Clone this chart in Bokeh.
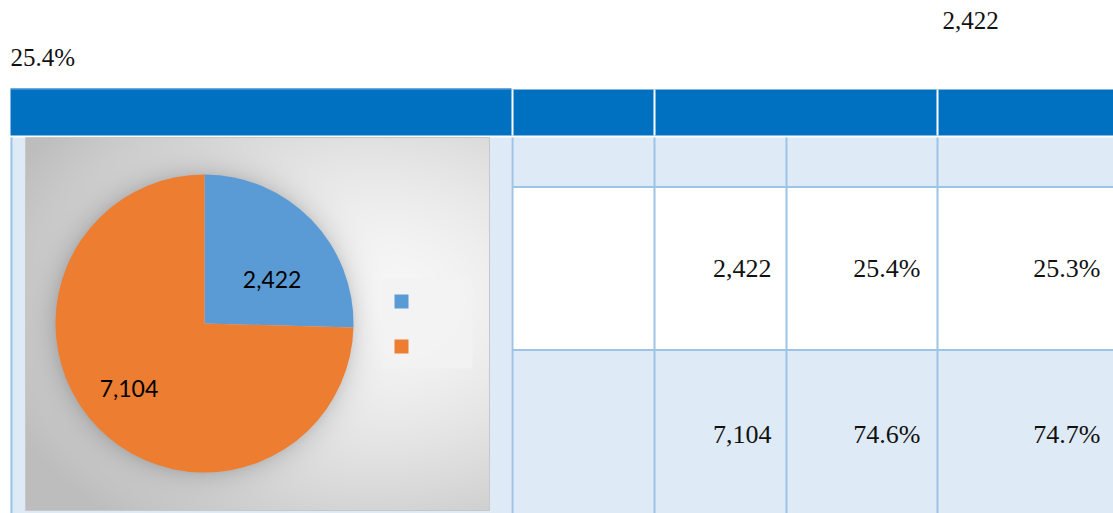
import numpy as np
from bokeh.plotting import figure
from bokeh.models import Range1d, ColumnDataSource
from bokeh.core.properties import value
from bokeh.embed import file_html
from bokeh.resources import INLINE

# ---- data ----
categories = ["", ""]
counts = [2422, 7104]
count_labels = ["2,422", "7,104"]
share_a = ["25.4%", "74.6%"]
share_b = ["25.3%", "74.7%"]
colors = ["#5B9BD5", "#ED7D31"]

W, H = 1113, 513
p = figure(width=W, height=H, x_range=Range1d(0, W), y_range=Range1d(0, H),
           output_backend="svg", toolbar_location=None, min_border=0)
p.axis.visible = False
p.grid.visible = False
p.outline_line_color = None
p.background_fill_color = "white"
p.border_fill_color = "white"

def Y(py):
    return 513 - py

LBLUE = "#DEEAF6"
GRID = "#9DC3E6"
HEAD = "#0070C0"

def serif_text(x, y, txt, size, align):
    p.text(x=x, y=y, text=txt, text_font=value("Liberation Serif"), text_font_size=size,
           text_align=align, text_baseline="middle", text_color="#111111")

# ---- texts above the table ----
serif_text([942], [Y(20)], [count_labels[0]], "25px", "left")
serif_text([10], [Y(57)], [share_a[0]], "25px", "left")

# ---- table header ----
p.quad(left=[10], right=[511], top=[Y(87.5)], bottom=[Y(89.5)], fill_color="#6FA8DC", line_color=None)
p.quad(left=[10], right=[1113], top=[Y(89)], bottom=[Y(135)], fill_color=HEAD, line_color=None)
for xs in [512, 654, 937]:
    p.quad(left=[xs - 1], right=[xs + 1], top=[Y(89)], bottom=[Y(135)], fill_color="white", line_color=None)

# ---- left merged cell ----
p.quad(left=[10], right=[511], top=[Y(137)], bottom=[Y(513)], fill_color=LBLUE, line_color=None)

# ---- right rows ----
rows = [(137, 186, LBLUE), (187, 349, "white"), (350, 513, LBLUE)]
for top, bot, col in rows:
    p.quad(left=[512], right=[1113], top=[Y(top)], bottom=[Y(bot)], fill_color=col, line_color=None)
for yy in [186.5, 349.5]:
    p.segment(x0=[512], y0=[Y(yy)], x1=[1113], y1=[Y(yy)], line_color=GRID, line_width=2)
for xx in [11, 512, 654, 786, 937]:
    p.segment(x0=[xx], y0=[Y(137)], x1=[xx], y1=[Y(513)], line_color=GRID, line_width=2)

# ---- chart area gradient background ----
cx0, cy0, cw, ch = 25, 137, 464, 373
pie_cx, pie_cy, pie_r = 204, 323, 149
jj, ii = np.meshgrid(np.arange(cw), np.arange(ch))
px = cx0 + jj + 0.5
py = (cy0 + ch) - ii - 0.5
d = np.sqrt(((px - 370) / 360.0) ** 2 + ((py - 300) / 260.0) ** 2)
val = 248 - 50 * d ** 1.6
val = np.clip(val, 190, 250)
e = np.sqrt((px - pie_cx) ** 2 + (py - pie_cy) ** 2) - pie_r
shade = np.where(e > 0, 32 * np.exp(-e / 12.0), 32)
val = np.clip(val - shade, 150, 255)
img = np.zeros((ch, cw, 4), dtype=np.uint8)
img[..., 0] = val
img[..., 1] = val
img[..., 2] = val
img[..., 3] = 255
img32 = img.view(dtype=np.uint32).reshape((ch, cw))
p.image_rgba(image=[img32], x=cx0, y=Y(cy0 + ch), dw=cw, dh=ch)
p.quad(left=[cx0], right=[cx0 + cw], top=[Y(cy0)], bottom=[Y(cy0 + ch)], fill_color=None,
       line_color="#C8C8C8", line_width=1)

# ---- pie ----
total = float(sum(counts))
fr = np.array(counts) / total
cum = np.concatenate([[0], np.cumsum(fr)])
starts = np.pi / 2 - cum[:-1] * 2 * np.pi
ends = np.pi / 2 - cum[1:] * 2 * np.pi
src = ColumnDataSource(dict(x=[pie_cx] * len(counts), y=[Y(pie_cy)] * len(counts),
                            start=starts, end=ends, color=colors, cat=categories))
p.wedge(x="x", y="y", radius=pie_r, start_angle="start", end_angle="end", direction="clock",
        fill_color="color", line_color=None, source=src)

mid = (starts + ends) / 2
lab_r = np.array([0.54, 0.67]) * pie_r
lab_da = np.array([-0.2, -0.06])
lx = pie_cx + lab_r * np.cos(mid + lab_da)
ly = Y(pie_cy) + lab_r * np.sin(mid + lab_da)
p.text(x=lx, y=ly, text=count_labels, text_font=value("Lato"), text_font_size="23px",
       text_align="center", text_baseline="middle", text_color="black")

# ---- legend ----
p.quad(left=[382], right=[472], top=[Y(278)], bottom=[Y(368)], fill_color="#F2F2F2",
       fill_alpha=0.8, line_color=None)
for k, c in enumerate(colors):
    top = 294 + k * 45
    p.quad(left=[394], right=[408], top=[Y(top)], bottom=[Y(top + 14)], fill_color=c, line_color=None)

# ---- table values ----
row_y = [Y(268), Y(434)]
serif_text([771] * 2, row_y, count_labels, "26px", "right")
serif_text([920] * 2, row_y, share_a, "26px", "right")
serif_text([1100] * 2, row_y, share_b, "26px", "right")

open("out.html", "w").write(file_html(p, INLINE))
